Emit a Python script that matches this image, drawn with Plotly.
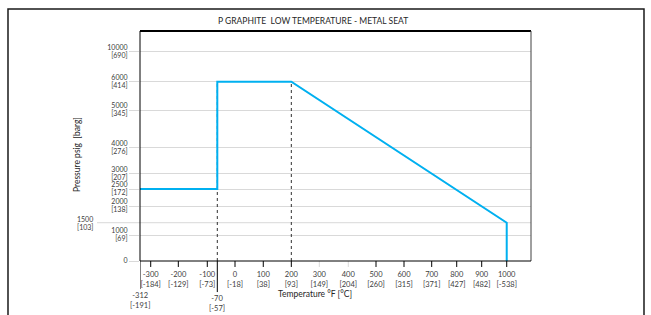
import numpy as np
import plotly.graph_objects as go

# ---------------- data ----------------
temp_f = [-312, -70, -70, 200, 1000, 1000]
pressure_psig = [2500, 2500, 6000, 6000, 1500, 0]

guide_temp_f = [-70, 200]          # dotted reference verticals
guide_top_psig = [6000, 6000]

x_tick_f = [-300, -200, -100, 0, 100, 200, 300, 400, 500, 600, 700, 800, 900, 1000]
x_tick_c = ["-184", "-129", "-73", "-18", "38", "93", "149", "204", "260", "315",
            "371", "427", "482", "-538"]
x_faint_f = [300, 400]
x_marker_f = [-312, -70]
x_marker_c = ["-191", "-57"]

y_zero_psig = [0]
y_tick_psig = [1000, 2000, 2500, 3000, 4000, 5000, 6000, 10000]
y_tick_barg = ["[69]", "[138]", "[172]", "[207]", "[276]", "[345]", "[414]", "[690]"]
y_extra_psig = [1500]
y_extra_barg = ["[103]"]

# ------------- axis scales (the original chart uses non-uniform axes) -------------
X_SCALE_F = [-312, -300, -200, -100, -70, 0, 100, 200, 300, 400, 500, 600, 700, 800, 900, 1000]
X_SCALE_POS = [0.0, 0.0274, 0.0980, 0.1721, 0.1977, 0.2430, 0.3153, 0.3870, 0.4586,
               0.5327, 0.6036, 0.6752, 0.7460, 0.8100, 0.8739, 0.9379]
Y_SCALE_PSIG = [0, 1000, 1500, 2000, 2500, 3000, 4000, 5000, 6000, 10000]
Y_SCALE_POS = [0.0, 0.1130, 0.1665, 0.2391, 0.3130, 0.3783, 0.4926, 0.6565, 0.7796, 0.9100]


def sx(v):
    return np.interp(v, X_SCALE_F, X_SCALE_POS)


def sy(v):
    return np.interp(v, Y_SCALE_PSIG, Y_SCALE_POS)


FONT = "Lato"
TXT = "#404040"
GRID = "#d9d9d9"
BLUE = "#00b0f0"
TFS = 7.5      # x tick labels
YFS = 7        # y tick labels
YSH = 4        # half line spacing of the two-line y labels (px)

fig = go.Figure()

# dotted guide lines
for t, p in zip(guide_temp_f, guide_top_psig):
    fig.add_trace(go.Scatter(x=sx([t, t]), y=sy([0, p]), mode="lines",
                             line=dict(color="#303030", width=1, dash="dot"),
                             hoverinfo="skip", showlegend=False))

# main rating line
fig.add_trace(go.Scatter(x=sx(temp_f), y=sy(pressure_psig), mode="lines",
                         line=dict(color=BLUE, width=2), showlegend=False,
                         hovertemplate="%{text}<extra></extra>",
                         text=[f"{t} °F, {p} psig" for t, p in zip(temp_f, pressure_psig)]))

# invisible traces to activate the secondary label axes
fig.add_trace(go.Scatter(x=[None], y=[None], yaxis="y2", showlegend=False, hoverinfo="skip"))
fig.add_trace(go.Scatter(x=[None], y=[None], yaxis="y3", showlegend=False, hoverinfo="skip"))

shapes = []
# x tick marks
for t in x_tick_f:
    col = GRID if t in x_faint_f else "black"
    shapes.append(dict(type="line", xref="x", yref="paper", x0=sx(t), x1=sx(t),
                       y0=0, y1=-0.026, line=dict(color=col, width=1)))
# long ticks for -312 and -70
for t, yb in zip(x_marker_f, [-0.122, -0.135]):
    shapes.append(dict(type="line", xref="x", yref="paper", x0=sx(t), x1=sx(t),
                       y0=0, y1=yb, line=dict(color="black", width=1)))

# 1500 gridline, extended to its outer label
for p in y_extra_psig:
    shapes.append(dict(type="line", xref="paper", yref="y", x0=-0.11, x1=1,
                       y0=sy(p), y1=sy(p), line=dict(color=GRID, width=1), layer="below"))

# plot frame
shapes += [
    dict(type="line", xref="paper", yref="paper", x0=0, x1=1, y0=1, y1=1,
         line=dict(color="black", width=2)),
    dict(type="line", xref="paper", yref="paper", x0=1, x1=1, y0=0, y1=1,
         line=dict(color="#404040", width=1)),
    dict(type="line", xref="paper", yref="paper", x0=0, x1=0, y0=0, y1=1,
         line=dict(color="black", width=1)),
    dict(type="line", xref="paper", yref="paper", x0=0, x1=1, y0=0, y1=0,
         line=dict(color="black", width=1)),
]
# outer chart border
shapes.append(dict(type="rect", xref="paper", yref="paper", x0=-0.3376, x1=1.289,
                   y0=-0.35, y1=1.0957, line=dict(color="#1a1a1a", width=1.5)))

annotations = []
for t, c in zip(x_marker_f, x_marker_c):
    annotations.append(dict(xref="x", yref="paper", x=sx(t), y=-0.122 if t == -312 else -0.135,
                            yanchor="top", xanchor="center", showarrow=False,
                            text=f"{t}<br>[{c}]", font=dict(family=FONT, size=TFS, color=TXT)))
for p, b in zip(y_extra_psig, y_extra_barg):
    for txt, shift in ((str(p), YSH), (b, -YSH)):
        annotations.append(dict(xref="paper", yref="y", x=-0.115, y=sy(p), xanchor="right",
                                yanchor="middle", yshift=shift, showarrow=False, text=txt,
                                font=dict(family=FONT, size=YFS, color=TXT)))
annotations.append(dict(xref="paper", yref="paper", x=(77 - 140) / 391, y=(261 - 155) / 230,
                        xanchor="center", yanchor="middle", textangle=-90, showarrow=False,
                        text="Pressure psig  [barg]", font=dict(family=FONT, size=8.5, color="#262626")))
annotations.append(dict(xref="paper", yref="paper", x=(315 - 140) / 391, y=(261 - 294) / 230,
                        xanchor="center", yanchor="middle", showarrow=False,
                        text="Temperature °F [°C]", font=dict(family=FONT, size=8.5, color="#262626")))
annotations.append(dict(xref="paper", yref="paper", x=(313 - 140) / 391, y=(261 - 21) / 230,
                        xanchor="center", yanchor="middle", showarrow=False,
                        text="P GRAPHITE  LOW TEMPERATURE - METAL SEAT",
                        font=dict(family=FONT, size=8.5, color="#262626")))

yticks = list(sy(y_tick_psig))
common_y = dict(range=[0, 1], zeroline=False, showline=False, tickmode="array",
                ticks="outside", ticklen=10, fixedrange=True,
                tickfont=dict(family=FONT, size=YFS, color=TXT))
fig.update_layout(
    width=651, height=315,
    margin=dict(l=140, r=120, t=31, b=54),
    paper_bgcolor="white", plot_bgcolor="white",
    shapes=shapes, annotations=annotations,
    showlegend=False,
    xaxis=dict(range=[0, 1], showgrid=False, zeroline=False, showline=False,
               tickmode="array", tickvals=list(sx(x_tick_f)),
               ticktext=[f"{t}<br>[{c}]" for t, c in zip(x_tick_f, x_tick_c)],
               ticks="outside", ticklen=6, tickcolor="rgba(0,0,0,0)",
               tickfont=dict(family=FONT, size=TFS, color=TXT), fixedrange=True),
    yaxis=dict(common_y, showgrid=True, gridcolor=GRID, gridwidth=1,
               tickvals=yticks, ticktext=[str(p) for p in y_tick_psig],
               ticklabelshift=-YSH, tickcolor=GRID),
    yaxis2=dict(common_y, overlaying="y", side="left", showgrid=False,
                tickvals=yticks, ticktext=y_tick_barg, ticklabelshift=YSH,
                tickcolor="rgba(0,0,0,0)"),
    yaxis3=dict(common_y, overlaying="y", side="left", showgrid=False,
                tickvals=list(sy(y_zero_psig)), ticktext=[str(p) for p in y_zero_psig],
                tickcolor=GRID),
)

fig.write_html("out.html", config={"displayModeBar": False},
               post_script="document.body.style.margin='0';document.body.style.overflow='hidden';")
